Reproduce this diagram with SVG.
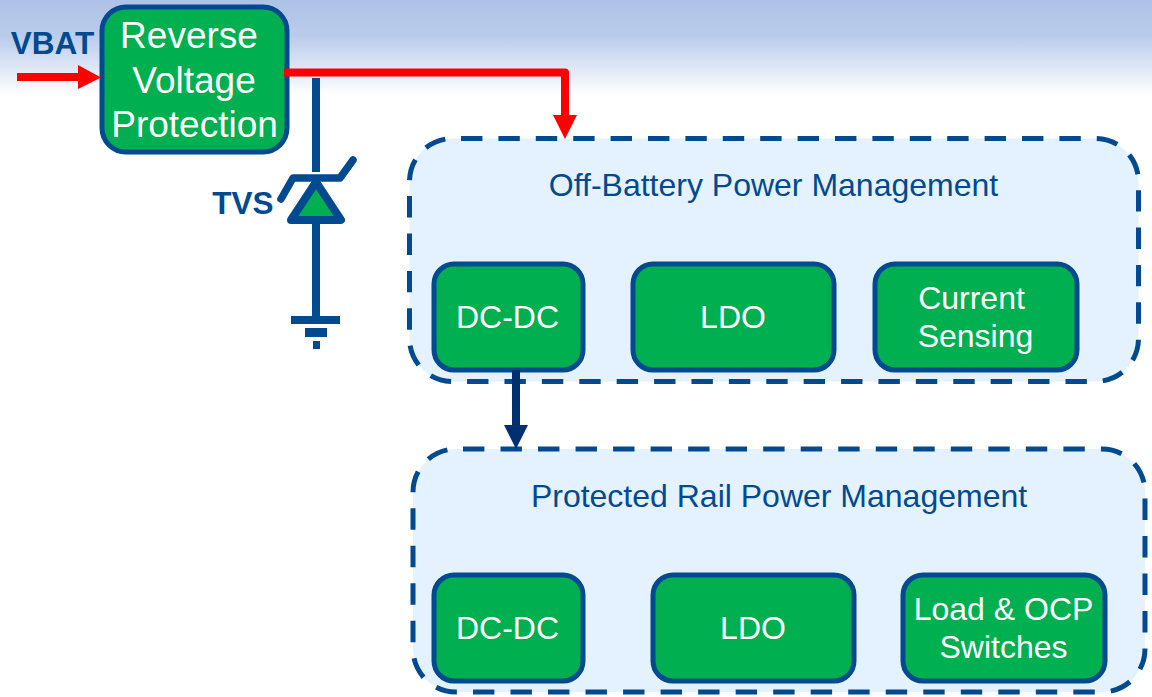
<svg xmlns="http://www.w3.org/2000/svg" width="1152" height="697" viewBox="0 0 1152 697">
<style>
text{font-family:"Liberation Sans",Arial,sans-serif}
.n{fill:#00b050;stroke:#024a90;stroke-width:5}
.w{fill:#fff;text-anchor:middle;font-size:32px}
.w2{fill:#fff;text-anchor:middle;font-size:37px}
.g{fill:#e4f1ff;stroke:#024a90;stroke-width:5}
.t{fill:#024a90;text-anchor:middle;font-size:32px}
.b{fill:#024a90;font-weight:bold;font-size:31.500px;text-anchor:middle}
.line{fill:none;stroke:#024a90;stroke-width:8}
</style>
<defs>
<linearGradient id="bg" x1="0" y1="0" x2="0" y2="1">
<stop offset="0" stop-color="#adc2e7"/><stop offset="0.4" stop-color="#bccdeb"/><stop offset="0.8" stop-color="#e8eef8"/><stop offset="1" stop-color="#ffffff"/>
</linearGradient>
</defs>
<rect width="1152" height="697" fill="#fff"/>
<rect width="1152" height="95" fill="url(#bg)"/>
<g id="group-off-battery">
<rect class="g" x="409.500" y="138.500" width="729" height="243" rx="43" stroke-dasharray="21.400 16" stroke-dashoffset="-8.500"/>
<text class="t" x="773.500" y="196">Off-Battery Power Management</text>
</g>
<g id="group-protected">
<rect class="g" x="413" y="449" width="732" height="243" rx="43" stroke-dasharray="21.400 16.124" stroke-dashoffset="-7"/>
<text class="t" x="779" y="507">Protected Rail Power Management</text>
</g>
<g id="reverse-voltage-protection">
<rect class="n" x="102" y="7" width="185" height="145" rx="24" />
<text class="w2" x="189" y="48">Reverse</text>
<text class="w2" x="194" y="93">Voltage</text>
<text class="w2" x="194.500" y="137">Protection</text>
</g>
<g id="vbat"><text class="b" x="52.500" y="54">VBAT</text></g>
<g id="dcdc-1"><rect class="n" x="434" y="264" width="149" height="106" rx="20"/><text class="w" x="507.500" y="328">DC-DC</text></g>
<g id="ldo-1"><rect class="n" x="633" y="264" width="201" height="106" rx="20"/><text class="w" x="733" y="328">LDO</text></g>
<g id="current-sensing"><rect class="n" x="875" y="264" width="202" height="106" rx="20"/><text class="w" x="971.500" y="309">Current</text><text class="w" x="975.500" y="347">Sensing</text></g>
<g id="dcdc-2"><rect class="n" x="434" y="575" width="149" height="106" rx="20"/><text class="w" x="507.500" y="639">DC-DC</text></g>
<g id="ldo-2"><rect class="n" x="653" y="575" width="201" height="106" rx="20"/><text class="w" x="753" y="639">LDO</text></g>
<g id="load-ocp"><rect class="n" x="903" y="575" width="202" height="106" rx="20"/><text class="w" x="1003.500" y="620">Load &amp; OCP</text><text class="w" x="1003.500" y="658">Switches</text></g>
<g id="connectors">
<path d="M17 77H80" fill="none" stroke="#f00" stroke-width="8"/>
<path d="M78 65L101 77.500L78 89Z" fill="#f00"/>
<path d="M316 78V172" class="line"/>
<path d="M316 224V318" class="line"/>
<path d="M284 72.500H565V118" fill="none" stroke="#f00" stroke-width="8" stroke-linejoin="round"/>
<path d="M553 115H577L565 139Z" fill="#f00"/>
<path d="M516 370V428" fill="none" stroke="#003070" stroke-width="8"/>
<path d="M504 425H528L516 449Z" fill="#003070"/>
</g>
<g id="tvs">
<path d="M281 199L293 178H340L353 160" fill="none" stroke="#024a90" stroke-width="7.500" stroke-linecap="round" stroke-linejoin="round"/>
<path d="M316 182L341 220H291Z" fill="#00b050" stroke="#024a90" stroke-width="8" stroke-linejoin="round"/>
<text class="b" x="243" y="214">TVS</text>
</g>
<g id="ground" fill="#024a90">
<rect x="291" y="316" width="49" height="8"/>
<rect x="305" y="328" width="22" height="9"/>
<rect x="313" y="341" width="7" height="8"/>
</g>
</svg>
